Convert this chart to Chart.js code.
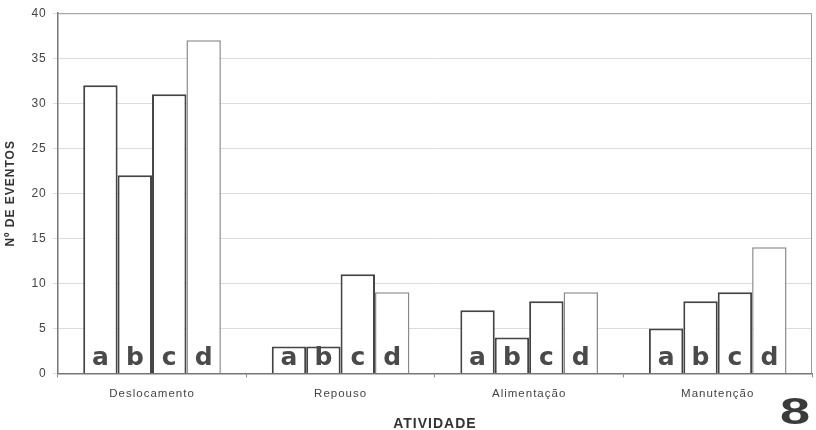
<!DOCTYPE html>
<html>
<head>
<meta charset="utf-8">
<script src="https://cdn.jsdelivr.net/npm/chart.js@4"></script>
<style>
  body { margin: 0; background: #fff; }
  #wrap { position: relative; width: 816px; height: 430px; }
  #fig { position: absolute; left: 780px; top: 394px; font: bold 36px "Liberation Sans", Arial, sans-serif; color: #3a3a3a; transform: scaleX(1.5); transform-origin: left top; line-height: 1; }
</style>
</head>
<body>
<div id="wrap">
  <canvas id="chart" width="816" height="430"></canvas>
  <div id="fig">8</div>
</div>
<script>
const categories = ['Deslocamento', 'Repouso', 'Alimentação', 'Manutenção'];
const groups = ['a', 'b', 'c', 'd'];
const seriesA = [32, 3, 7, 5];
const seriesB = [22, 3, 4, 8];
const seriesC = [31, 11, 8, 9];
const seriesD = [37, 9, 9, 14];
const yTicks = [0, 5, 10, 15, 20, 25, 30, 35, 40];

const allSeries = [seriesA, seriesB, seriesC, seriesD];
const fontFamily = 'Arial, "Liberation Sans", sans-serif';

// the scanned text is a bit spread out
const spacingPlugin = {
    id: 'spacing',
    beforeDraw(chart) {
        chart.ctx.letterSpacing = '1px';
    }
};

// letters a b c d at the foot of every bar
const letterPlugin = {
    id: 'letters',
    afterDatasetsDraw(chart) {
        const ctx = chart.ctx;
        ctx.save();
        ctx.letterSpacing = '0px';
        ctx.font = 'bold 25px "DejaVu Sans", sans-serif';
        ctx.fillStyle = '#4a4a4a';
        ctx.textAlign = 'center';
        ctx.textBaseline = 'alphabetic';
        chart.data.datasets.forEach((ds, i) => {
            chart.getDatasetMeta(i).data.forEach(bar => {
                ctx.fillText(groups[i], bar.x, chart.chartArea.bottom - 8);
            });
        });
        ctx.restore();
    }
};

// frame round the plot area
const framePlugin = {
    id: 'frame',
    beforeDatasetsDraw(chart) {
        const a = chart.chartArea;
        const ctx = chart.ctx;
        ctx.save();
        ctx.strokeStyle = '#999';
        ctx.lineWidth = 1;
        ctx.beginPath();
        ctx.moveTo(a.left, a.top + 0.5);
        ctx.lineTo(a.right - 0.5, a.top + 0.5);
        ctx.lineTo(a.right - 0.5, a.bottom);
        ctx.stroke();
        ctx.restore();
    }
};

const borderColors = ['#444', '#444', '#444', '#8a8a8a'];
const borderWidths = [2, 2, 2, 1.5];

new Chart(document.getElementById('chart'), {
    type: 'bar',
    data: {
        labels: categories,
        datasets: allSeries.map((s, i) => ({
            label: groups[i],
            data: s,
            backgroundColor: '#fff',
            borderColor: borderColors[i],
            borderWidth: borderWidths[i],
            borderSkipped: 'bottom',
            categoryPercentage: 0.73,
            barPercentage: 1
        }))
    },
    options: {
        responsive: false,
        animation: false,
        layout: { padding: { top: 11, right: 4, left: 3, bottom: -3 } },
        plugins: {
            legend: { display: false },
            tooltip: { enabled: false }
        },
        scales: {
            x: {
                grid: { display: true, drawOnChartArea: false, offset: true, tickLength: 4, color: '#888' },
                border: { color: '#777', width: 1.5 },
                ticks: { color: '#444', font: { family: fontFamily, size: 11.5 }, padding: 10 },
                title: {
                    display: true,
                    text: 'ATIVIDADE',
                    color: '#333',
                    font: { family: fontFamily, size: 14, weight: 'bold' },
                    padding: { top: 5, bottom: 0 }
                }
            },
            y: {
                min: 0,
                max: 40,
                afterBuildTicks: axis => { axis.ticks = yTicks.map(v => ({ value: v })); },
                grid: { color: '#dcdcdc', tickLength: 5 },
                border: { color: '#777', width: 1.5 },
                ticks: { color: '#444', font: { family: fontFamily, size: 12 }, padding: 6 },
                title: {
                    display: true,
                    text: 'Nº DE EVENTOS',
                    color: '#333',
                    font: { family: fontFamily, size: 12, weight: 'bold' },
                    padding: { top: 0, bottom: 10 }
                }
            }
        }
    },
    plugins: [spacingPlugin, letterPlugin, framePlugin]
});
</script>
</body>
</html>
